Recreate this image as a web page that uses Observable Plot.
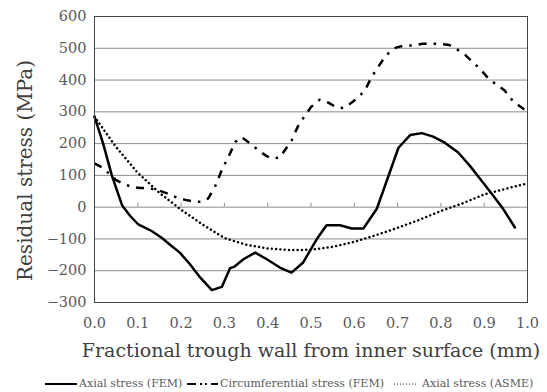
<!DOCTYPE html>
<html>
<head>
<meta charset="utf-8">
<script src="https://cdn.jsdelivr.net/npm/d3@7"></script>
<script src="https://cdn.jsdelivr.net/npm/@observablehq/plot@0.6"></script>
<style>
  html, body { margin: 0; padding: 0; background: #fff; }
  #wrap { width: 547px; height: 392px; position: relative; overflow: hidden; }
  #legend { position: relative; width: 547px; height: 27px; font-family: "DejaVu Serif"; font-size: 11px; color: #595959; }
  #legend .item { position: absolute; top: 12px; display: flex; align-items: center; white-space: nowrap; }
  #legend svg { display: block; margin-right: 2px; }
</style>
</head>
<body>
<div id="wrap"></div>
<script>
// ---- data ----
const xTicks = [0, 0.1, 0.2, 0.3, 0.4, 0.5, 0.6, 0.7, 0.8, 0.9, 1.0];
const yTicks = [-300, -200, -100, 0, 100, 200, 300, 400, 500, 600];

const xTitle = "Fractional trough wall from inner surface (mm)";
const yTitle = "Residual stress (MPa)";
const seriesNames = ["Axial stress (FEM)", "Circumferential stress (FEM)", "Axial stress (ASME)"];

// Axial stress (FEM): [fraction, MPa]
const axialFEM = [
  [0, 285], [0.02, 200], [0.04, 100], [0.064, 5], [0.082, -27], [0.1, -53],
  [0.132, -75], [0.155, -96], [0.178, -122], [0.197, -143], [0.22, -179],
  [0.244, -221], [0.271, -261], [0.294, -251], [0.313, -192], [0.322, -188],
  [0.344, -164], [0.371, -143], [0.398, -164], [0.428, -190], [0.455, -206],
  [0.482, -174], [0.513, -101], [0.536, -57], [0.567, -57], [0.594, -67],
  [0.621, -67], [0.652, -5], [0.675, 83], [0.702, 187], [0.729, 227],
  [0.756, 233], [0.782, 222], [0.809, 203], [0.84, 172], [0.867, 130],
  [0.894, 83], [0.921, 36], [0.944, -6], [0.971, -64]
];

// Circumferential stress (FEM): [fraction, MPa]
const circFEM = [
  [0, 138], [0.02, 123], [0.05, 85], [0.065, 75], [0.085, 64], [0.105, 60],
  [0.125, 60], [0.15, 52], [0.17, 42], [0.19, 30], [0.21, 23], [0.23, 17],
  [0.245, 17], [0.263, 28], [0.28, 70], [0.295, 120], [0.31, 160], [0.325, 205],
  [0.34, 220], [0.36, 200], [0.38, 178], [0.395, 163], [0.408, 153], [0.428, 156],
  [0.44, 180], [0.455, 210], [0.47, 255], [0.482, 280], [0.5, 315], [0.52, 338],
  [0.54, 329], [0.56, 313], [0.576, 312], [0.595, 330], [0.61, 347], [0.625, 368],
  [0.64, 410], [0.655, 441], [0.673, 478], [0.696, 502], [0.717, 509], [0.737, 509],
  [0.758, 514], [0.78, 514], [0.8, 514], [0.82, 510], [0.84, 494], [0.856, 479],
  [0.871, 460], [0.89, 436], [0.913, 400], [0.93, 385], [0.948, 366], [0.96, 343],
  [0.98, 320], [1.0, 300]
];

// Axial stress (ASME): [fraction, MPa]
const axialASME = [
  [0, 285], [0.05, 189], [0.1, 108], [0.15, 45], [0.2, -8], [0.25, -55],
  [0.3, -97], [0.35, -118], [0.4, -130], [0.45, -135], [0.5, -134], [0.55, -125],
  [0.6, -109], [0.65, -88], [0.7, -65], [0.75, -40], [0.8, -12], [0.85, 12],
  [0.9, 40], [0.95, 58], [1.0, 75]
];

// ---- chart ----
const chart = Plot.plot({
  width: 547,
  height: 365,
  marginLeft: 94,
  marginRight: 20,
  marginTop: 16,
  marginBottom: 63,
  style: {fontFamily: "DejaVu Serif", fontSize: "14.5px", color: "#595959", background: "#fff"},
  x: {domain: [0, 1]},
  y: {domain: [-300, 600]},
  marks: [
    Plot.gridY(yTicks, {stroke: "#8c8c8c", strokeOpacity: 1, strokeWidth: 1}),
    Plot.ruleX(xTicks.slice(1, -1), {x: d => d, y1: 0, y2: 12, stroke: "#8c8c8c", strokeWidth: 1}),
    Plot.line(axialASME, {x: d => d[0], y: d => d[1], stroke: "#000", strokeWidth: 2.5, strokeDasharray: "0.01 4.3", strokeLinecap: "round"}),
    Plot.line(circFEM, {x: d => d[0], y: d => d[1], stroke: "#000", strokeWidth: 2.5, strokeDasharray: "8 7 2.5 7", strokeLinecap: "butt"}),
    Plot.line(axialFEM, {x: d => d[0], y: d => d[1], stroke: "#000", strokeWidth: 2.5, strokeLinejoin: "round"}),
    Plot.frame({stroke: "#444", strokeWidth: 1}),
    Plot.axisY(yTicks, {tickSize: 0, tickPadding: 8, label: null, fontSize: 14.5}),
    Plot.axisX(xTicks, {tickSize: 0, tickPadding: 15, tickFormat: d3.format(".1f"), label: null, fontSize: 14.5}),
    Plot.text([yTitle], {text: d => d, frameAnchor: "left", textAnchor: "middle", lineAnchor: "middle", dx: -69, dy: 11, rotate: -90, fontSize: 20, fill: "#404040"}),
    Plot.text([xTitle], {text: d => d, frameAnchor: "bottom", textAnchor: "middle", lineAnchor: "middle", dy: 48, fontSize: 19, fill: "#404040"})
  ]
});

const wrap = document.getElementById("wrap");
wrap.appendChild(chart);

// ---- legend (below the SVG) ----
const legend = document.createElement("div");
legend.id = "legend";
const legendX = [45, 187, 393];
const sampleW = [32, 31, 27];
seriesNames.forEach((name, i) => {
  const item = document.createElement("div");
  item.className = "item";
  item.style.left = legendX[i] + "px";
  const ns = "http://www.w3.org/2000/svg";
  const s = document.createElementNS(ns, "svg");
  s.setAttribute("width", sampleW[i]);
  s.setAttribute("height", 6);
  const ln = document.createElementNS(ns, "line");
  ln.setAttribute("x1", i === 2 ? 1.5 : 0);
  ln.setAttribute("x2", sampleW[i] - (i === 2 ? 1.5 : 0));
  ln.setAttribute("y1", 3);
  ln.setAttribute("y2", 3);
  ln.setAttribute("stroke", "#000");
  ln.setAttribute("stroke-width", i === 2 ? 1.2 : 2);
  if (i === 1) ln.setAttribute("stroke-dasharray", "9 4 2 3 2 4");
  if (i === 2) { ln.setAttribute("stroke-dasharray", "0.01 3"); ln.setAttribute("stroke-linecap", "round"); }
  s.appendChild(ln);
  item.appendChild(s);
  const t = document.createElement("span");
  t.textContent = name;
  item.appendChild(t);
  legend.appendChild(item);
});
wrap.appendChild(legend);
</script>
</body>
</html>
